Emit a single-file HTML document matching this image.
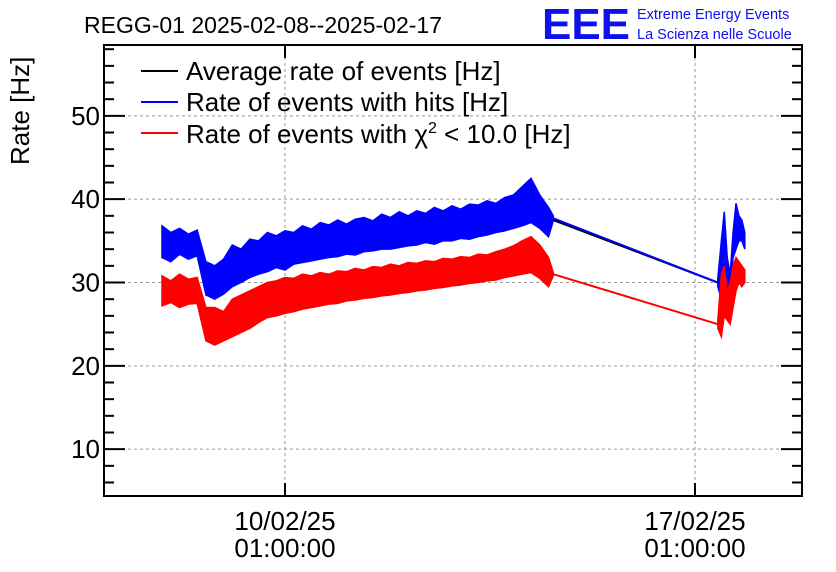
<!DOCTYPE html>
<html><head><meta charset="utf-8"><style>
body{margin:0;background:#fff}
svg{display:block;font-family:"Liberation Sans",sans-serif}
</style></head><body>
<svg id="c" width="836" height="572">
<rect width="836" height="572" fill="#fff"/>
<text x="84" y="33" font-size="23">REGG-01 2025-02-08--2025-02-17</text>
<g>
<text x="542" y="39" font-size="44" fill="#1010ee" font-weight="bold" textLength="88" lengthAdjust="spacingAndGlyphs">EEE</text>
<text x="637" y="19" font-size="14.5" fill="#1010ee">Extreme Energy Events</text>
<text x="637" y="39" font-size="14.5" fill="#1010ee">La Scienza nelle Scuole</text>
</g>
<text transform="translate(29,165) rotate(-90)" font-size="26">Rate [Hz]</text>
<g id="grid"></g>
<g id="series"></g>
<g id="axes"></g>
<g>
<g><line x1="141" y1="71" x2="178" y2="71" stroke="#000" stroke-width="2"/><text x="186" y="80" font-size="26">Average rate of events [Hz]</text></g>
<g><line x1="141" y1="102" x2="178" y2="102" stroke="#0000ff" stroke-width="2"/><text x="186" y="111" font-size="26">Rate of events with hits [Hz]</text></g>
<g><line x1="141" y1="133" x2="178" y2="133" stroke="#ff0000" stroke-width="2"/><text x="186" y="143" font-size="26">Rate of events with χ<tspan font-size="16" dy="-10">2</tspan><tspan dy="10"> &lt; 10.0 [Hz]</tspan></text></g>
</g>
</svg>
<script>
// time in days relative to 10/02/25 01:00:00
const times1 = [-2.1,-1.95,-1.8,-1.65,-1.5,-1.35,-1.2,-1.05,-0.9,-0.75,-0.6,-0.45,-0.3,-0.15,0,0.15,0.3,0.45,0.6,0.75,0.9,1.05,1.2,1.35,1.5,1.65,1.8,1.95,2.1,2.25,2.4,2.55,2.7,2.85,3.0,3.15,3.3,3.45,3.6,3.75,3.9,4.05,4.2,4.35,4.5,4.58];
const hitsHi1 = [36.8,36.0,36.5,35.8,36.3,32.5,32.0,32.8,34.5,34.0,35.2,35.0,36.0,35.6,36.2,36.0,36.8,36.4,37.2,36.9,37.5,37.0,37.6,37.8,37.4,38.2,37.8,38.5,38.0,38.6,38.3,39.0,38.6,39.2,38.8,39.4,39.3,39.8,39.5,40.2,40.5,41.5,42.5,40.5,39.0,38.0];
const hitsLo1 = [33.0,32.5,33.4,32.8,33.2,28.5,28.0,28.6,29.5,30.0,30.6,31.0,31.3,31.8,31.5,32.2,32.4,32.6,32.8,33.0,33.1,33.4,33.3,33.7,33.8,34.0,34.0,34.2,34.4,34.5,34.8,34.6,35.0,35.0,35.3,35.2,35.5,35.7,36.0,36.2,36.5,36.8,37.2,36.5,35.5,37.4];
const chiHi1 = [30.8,30.2,31.0,30.4,30.6,27.0,27.0,26.5,28.0,28.5,29.0,29.5,30.0,30.2,30.6,30.5,31.0,30.8,31.2,31.0,31.4,31.3,31.7,31.5,31.9,31.8,32.2,32.0,32.4,32.3,32.6,32.5,32.9,32.8,33.1,33.0,33.4,33.3,33.7,34.0,34.4,35.0,35.5,34.5,33.0,31.2];
const chiLo1 = [27.2,27.6,27.0,27.4,27.5,23.0,22.5,23.0,23.5,24.0,24.5,25.2,25.8,26.0,26.3,26.5,26.8,27.0,27.2,27.4,27.5,27.8,27.9,28.1,28.2,28.4,28.5,28.7,28.8,29.0,29.1,29.3,29.4,29.6,29.7,29.9,30.0,30.2,30.3,30.6,30.8,31.0,31.2,30.5,29.5,30.8];
const avg1 = [34.8,34.5,34.8,34.4,34.6,30.2,30.0,30.5,31.8,32.0,32.8,33.0,33.5,33.6,33.8,34.0,34.5,34.4,34.8,35.0,35.2,35.2,35.4,35.6,35.6,36.0,36.0,36.3,36.2,36.5,36.5,36.8,36.8,37.1,37.0,37.3,37.4,37.7,37.7,38.2,38.5,39.0,39.5,38.4,37.2,37.5];
const times2 = [7.39,7.45,7.5,7.55,7.6,7.65,7.7,7.75,7.8,7.85];
const hitsHi2 = [30.5,35.0,38.5,33.0,31.0,36.0,39.5,38.0,37.5,36.0];
const hitsLo2 = [29.5,28.0,30.0,29.0,29.5,33.0,34.0,35.0,35.0,34.0];
const chiHi2 = [25.5,31.0,32.0,29.0,30.0,32.0,33.0,32.5,32.0,31.5];
const chiLo2 = [24.5,23.5,26.0,25.5,25.0,27.0,29.0,30.0,29.5,30.0];
const avg2 = [30.0,31.5,34.0,31.0,30.3,34.5,36.5,36.5,36.2,35.0];
const yTicks = [10,20,30,40,50];
const xTicks = [0,7];
const xLabels1 = ["10/02/25","17/02/25"];
const xLabels2 = ["01:00:00","01:00:00"];

const L=104,R=802,T=45,B=496;
const X=t=>285+t*58.571;
const Y=v=>532.5-v*8.333;
const NS="http://www.w3.org/2000/svg";
function mk(tag,attrs,parent){const e=document.createElementNS(NS,tag);for(const k in attrs)e.setAttribute(k,attrs[k]);parent.appendChild(e);return e;}
const grid=document.getElementById('grid'),ser=document.getElementById('series'),ax=document.getElementById('axes');
yTicks.forEach(v=>{const l=mk('line',{x1:L,x2:R,y1:Y(v),y2:Y(v),stroke:'#999','stroke-dasharray':'3,3'},grid);

});
xTicks.forEach(t=>{const l=mk('line',{x1:X(t),x2:X(t),y1:T,y2:B,stroke:'#999','stroke-dasharray':'3,3'},grid);

});
function band(ts,hi,lo,col,name){
 let pts=ts.map((t,i)=>X(t)+','+Y(hi[i]));
 for(let i=ts.length-1;i>=0;i--)pts.push(X(ts[i])+','+Y(lo[i]));
 const p=mk('polygon',{points:pts.join(' '),fill:col,stroke:col,'stroke-width':1.5},ser);
 
 
}
function line(ts,v,col,name){
 const p=mk('polyline',{points:ts.map((t,i)=>X(t)+','+Y(v[i])).join(' '),fill:'none',stroke:col,'stroke-width':2},ser);
 
 
}
const n=times1.length-1;
const mid=(a,b,i)=>(a[i]+b[i])/2;
line(times1,avg1,'#000','average-rate-series');
line([times1[n],times2[0]],[avg1[n],avg2[0]],'#000','average-rate-gap');
line(times2,avg2,'#000','average-rate-series-2');
band(times1,hitsHi1,hitsLo1,'#0000ff','hits-rate-band');
line([times1[n],times2[0]],[mid(hitsHi1,hitsLo1,n),mid(hitsHi2,hitsLo2,0)],'#0000ff','hits-rate-gap');
band(times2,hitsHi2,hitsLo2,'#0000ff','hits-rate-band-2');
band(times1,chiHi1,chiLo1,'#ff0000','chi2-rate-band');
line([times1[n],times2[0]],[mid(chiHi1,chiLo1,n),mid(chiHi2,chiLo2,0)],'#ff0000','chi2-rate-gap');
band(times2,chiHi2,chiLo2,'#ff0000','chi2-rate-band-2');
const fr=mk('rect',{x:L,y:T,width:R-L,height:B-T,fill:'none',stroke:'#000','stroke-width':2},ax);


for(let v=6;v<=58;v+=2){
 const maj=v%10===0,len=maj?21:10,y=Y(v);
 if(y<T||y>B)continue;
 mk('line',{x1:L,x2:L+len,y1:y,y2:y,stroke:'#000','stroke-width':2},ax);
 mk('line',{x1:R-len,x2:R,y1:y,y2:y,stroke:'#000','stroke-width':2},ax);
}
yTicks.forEach(v=>{const t=mk('text',{x:L-4,y:Y(v)+9,'font-size':26,'text-anchor':'end'},ax);t.textContent=v;

});
xTicks.forEach((t,i)=>{const x=X(t);
 mk('line',{x1:x,x2:x,y1:B,y2:B-13,stroke:'#000','stroke-width':2},ax);
 mk('line',{x1:x,x2:x,y1:T,y2:T+13,stroke:'#000','stroke-width':2},ax);
 const a=mk('text',{x:x,y:530,'font-size':26,'text-anchor':'middle'},ax);a.textContent=xLabels1[i];
 
 
 const b=mk('text',{x:x,y:557,'font-size':26,'text-anchor':'middle'},ax);b.textContent=xLabels2[i];
 
 
});
</script>
</body></html>
